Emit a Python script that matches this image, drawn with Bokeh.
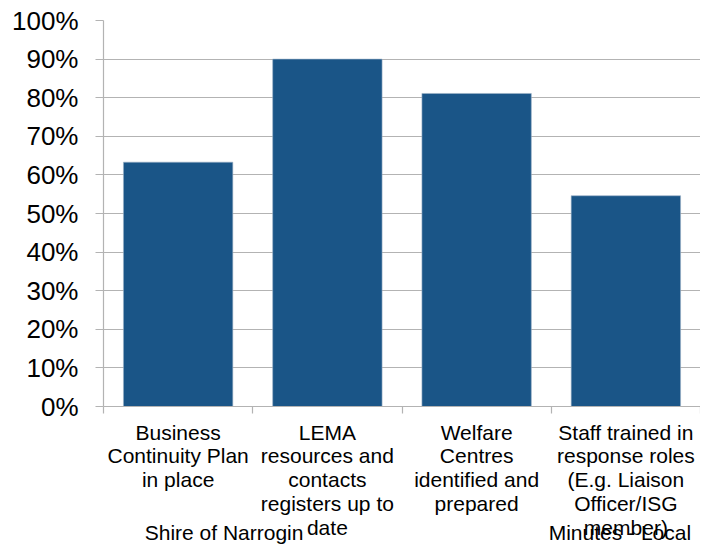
from bokeh.plotting import figure
from bokeh.models import FixedTicker, Range1d, NumeralTickFormatter, LinearAxis
from bokeh.embed import file_html
from bokeh.resources import INLINE
import numpy as np

categories = [
    "Business\nContinuity Plan\nin place",
    "LEMA\nresources and\ncontacts\nregisters up to\ndate",
    "Welfare\nCentres\nidentified and\nprepared",
    "Staff trained in\nresponse roles\n(E.g. Liaison\nOfficer/ISG\nmember)",
]
values = [0.633, 0.900, 0.811, 0.546]
y_ticks = [0.0, 0.1, 0.2, 0.3, 0.4, 0.5, 0.6, 0.7, 0.8, 0.9, 1.0]
footers = ["Shire of Narrogin", "Minutes - Local"]

FONT = "Liberation Sans"
GRAY = "#B3B3B3"
BAR = "#1A5587"

n = len(categories)
xs = list(np.arange(n) + 0.5)
bounds = list(np.arange(n + 1))
footer_pos = [0.808, 3.46]   # horizontal placement of the page footer texts

p = figure(width=700, height=546, x_range=Range1d(0, n), y_range=Range1d(0, 1),
           output_backend="svg", toolbar_location=None,
           min_border_left=103, min_border_right=0, min_border_top=20, min_border_bottom=140)
p.outline_line_color = None
p.background_fill_color = "white"
p.border_fill_color = "white"

p.vbar(x=xs, top=values, width=0.733, fill_color=BAR, line_color="#9FB3C8", line_width=0.6)

p.xgrid.visible = False
p.ygrid.grid_line_color = GRAY
p.ygrid.grid_line_width = 1.2
p.ygrid.ticker = FixedTicker(ticks=y_ticks)

ya = p.yaxis[0]
ya.ticker = FixedTicker(ticks=y_ticks)
ya.formatter = NumeralTickFormatter(format="0%")
ya.axis_line_color = GRAY
ya.axis_line_width = 1.2
ya.major_tick_line_color = GRAY
ya.major_tick_line_width = 1.2
ya.major_tick_out = 8
ya.major_tick_in = 0
ya.minor_tick_line_color = None
ya.major_label_text_font = FONT
ya.major_label_text_font_size = "26px"
ya.major_label_text_color = "black"
ya.major_label_standoff = 17

xa = p.xaxis[0]
xa.ticker = FixedTicker(ticks=xs, minor_ticks=bounds)
xa.major_label_overrides = {float(x): c for x, c in zip(xs, categories)}
xa.axis_line_color = GRAY
xa.axis_line_width = 1.2
xa.major_tick_line_color = None
xa.major_tick_out = 0
xa.major_tick_in = 0
xa.minor_tick_line_color = GRAY
xa.minor_tick_line_width = 1.2
xa.minor_tick_out = 7
xa.minor_tick_in = 0
xa.major_label_text_font = FONT
xa.major_label_text_font_size = "21px"
xa.major_label_text_color = "black"
xa.major_label_text_line_height = 1.04
xa.major_label_standoff = 7

fa = LinearAxis(ticker=FixedTicker(ticks=footer_pos, minor_ticks=[]),
                major_label_overrides={float(x): t for x, t in zip(footer_pos, footers)})
fa.axis_line_color = None
fa.major_tick_line_color = None
fa.minor_tick_line_color = None
fa.major_tick_out = 0
fa.major_tick_in = 0
fa.minor_tick_out = 0
fa.minor_tick_in = 0
fa.major_label_text_font = FONT
fa.major_label_text_font_size = "21px"
fa.major_label_text_color = "black"
fa.major_label_standoff = -22
p.add_layout(fa, "below")

open("out.html", "w").write(file_html(p, INLINE))
